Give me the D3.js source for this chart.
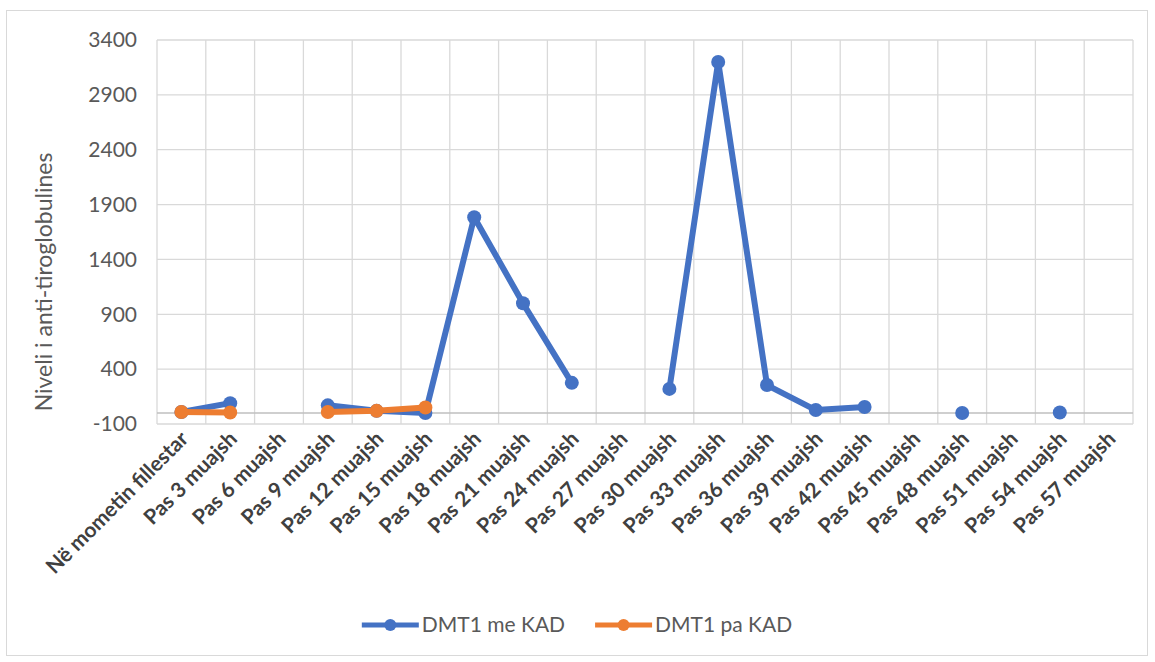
<!DOCTYPE html>
<html><head><meta charset="utf-8">
<script src="https://cdn.jsdelivr.net/npm/d3@7/dist/d3.min.js"></script>
<style>
body{margin:0;background:#fff;}
svg{display:block;}
</style></head>
<body>
<svg id="chart" width="1155" height="662"></svg>
<script>
const categories = ["Në mometin fillestar","Pas 3 muajsh","Pas 6 muajsh","Pas 9 muajsh","Pas 12 muajsh","Pas 15 muajsh","Pas 18 muajsh","Pas 21 muajsh","Pas 24 muajsh","Pas 27 muajsh","Pas 30 muajsh","Pas 33 muajsh","Pas 36 muajsh","Pas 39 muajsh","Pas 42 muajsh","Pas 45 muajsh","Pas 48 muajsh","Pas 51 muajsh","Pas 54 muajsh","Pas 57 muajsh"];
const seriesNames = ["DMT1 me KAD","DMT1 pa KAD"];
const meKAD = [10, 90, null, 70, 20, 0, 1785, 1000, 275, null, 220, 3200, 255, 27, 55, null, 0, null, 5, null];
const paKAD = [10, 5, null, 10, 20, 50, null, null, null, null, null, null, null, null, null, null, null, null, null, null];
const yTicks = [-100, 400, 900, 1400, 1900, 2400, 2900, 3400];
const yTitle = "Niveli i anti-tiroglobulines";
const colors = ["#4472C4","#ED7D31"];
const FONT = "Lato, 'Open Sans', sans-serif";

const svg = d3.select("#chart");
const L = 157, R = 1133, T = 40, B = 424;

svg.append("rect").attr("x",6.5).attr("y",10.5).attr("width",1141).attr("height",645)
  .attr("fill","#fff").attr("stroke","#d9d9d9");

const x = d3.scaleBand().domain(categories).range([L, R]);
const y = d3.scaleLinear().domain([-100, 3400]).range([B, T]);

svg.append("g").selectAll("line").data(yTicks).join("line")
  .attr("x1",L).attr("x2",R).attr("y1",d=>y(d)).attr("y2",d=>y(d))
  .attr("stroke","#d9d9d9").attr("stroke-width",1.3);
const vb = categories.map(c=>x(c)).concat([R]);
svg.append("g").selectAll("line").data(vb).join("line")
  .attr("x1",d=>d).attr("x2",d=>d).attr("y1",T).attr("y2",B)
  .attr("stroke","#d9d9d9").attr("stroke-width",1.3);
svg.append("line").attr("x1",L).attr("x2",R).attr("y1",y(0)).attr("y2",y(0))
  .attr("stroke","#bfbfbf").attr("stroke-width",1.5);

const yAxis = d3.axisLeft(y).tickValues(yTicks).tickFormat(d=>String(d)).tickSize(0).tickPadding(20);
const gy = svg.append("g").attr("transform",`translate(${L},0)`).call(yAxis);
gy.select(".domain").remove();
gy.selectAll("text").attr("font-family",FONT).attr("font-size",21).attr("fill","#595959");

const xAxis = d3.axisBottom(x).tickSize(0).tickPadding(0);
const gx = svg.append("g").attr("transform",`translate(0,${B})`).call(xAxis);
gx.select(".domain").remove();
gx.selectAll("text")
  .attr("font-family",FONT).attr("font-size",21).attr("font-weight","bold")
  .attr("fill","#404040").attr("text-anchor","end").attr("dy","0.35em")
  .attr("transform","translate(3,11) rotate(-45)");

svg.append("text").attr("transform",`translate(44,${(T+B)/2+50}) rotate(-90)`)
  .attr("text-anchor","middle").attr("dy","0.35em").attr("font-family",FONT)
  .attr("font-size",23).attr("fill","#595959").text(yTitle);

const xc = c => x(c) + x.bandwidth()/2;
[meKAD, paKAD].forEach((vals,i)=>{
  const pts = categories.map((c,j)=>({c, v: vals[j]}));
  const line = d3.line().defined(d=>d.v!==null).x(d=>xc(d.c)).y(d=>y(d.v));
  svg.append("path").datum(pts).attr("d",line).attr("fill","none")
    .attr("stroke",colors[i]).attr("stroke-width",6).attr("stroke-linejoin","round");
  svg.append("g").selectAll("circle").data(pts.filter(d=>d.v!==null)).join("circle")
    .attr("cx",d=>xc(d.c)).attr("cy",d=>y(d.v)).attr("r",7).attr("fill",colors[i]);
});

const lg = svg.append("g");
const LY = 625;
let cx = 0;
seriesNames.forEach((name,i)=>{
  const g = lg.append("g");
  g.append("line").attr("x1",0).attr("x2",57).attr("y1",LY).attr("y2",LY)
    .attr("stroke",colors[i]).attr("stroke-width",5);
  g.append("circle").attr("cx",28.5).attr("cy",LY).attr("r",6).attr("fill",colors[i]);
  const t = g.append("text").attr("x",60).attr("y",LY).attr("dy","0.35em")
    .attr("font-family",FONT).attr("font-size",21).attr("fill","#595959").text(name);
  const w = 60 + t.node().getComputedTextLength();
  g.attr("transform",`translate(${cx},0)`);
  cx += w + 30;
});
const total = cx - 30;
lg.attr("transform",`translate(${577 - total/2},0)`);
</script>
</body></html>
